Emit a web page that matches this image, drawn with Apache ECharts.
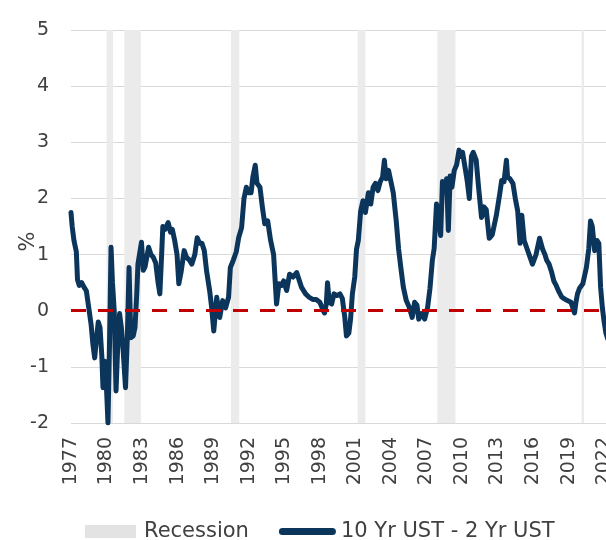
<!DOCTYPE html>
<html>
<head>
<meta charset="utf-8">
<script src="https://cdn.jsdelivr.net/npm/echarts@6/dist/echarts.min.js"></script>
<style>
  html, body { margin: 0; padding: 0; background: #fff; }
  #chart { width: 606px; height: 540px; }
</style>
</head>
<body>
<div id="chart"></div>
<script>
// 10Y - 2Y spread (year as decimal, value in %)
const years = [
  1977.0, 1977.1, 1977.25, 1977.45, 1977.55, 1977.7, 1977.9, 1978.1, 1978.3, 1978.5,
  1978.7, 1978.85, 1979.0, 1979.15, 1979.3, 1979.45, 1979.6, 1979.7, 1979.85, 1980.0,
  1980.12, 1980.25, 1980.38, 1980.5, 1980.65, 1980.8, 1980.95, 1981.1, 1981.25, 1981.4,
  1981.6, 1981.75, 1981.9, 1982.05, 1982.25, 1982.4, 1982.55, 1982.65, 1982.8, 1982.95,
  1983.1, 1983.25, 1983.4, 1983.55, 1983.75, 1983.95, 1984.15, 1984.35, 1984.5, 1984.65,
  1984.75, 1984.95, 1985.2, 1985.4, 1985.55, 1985.75, 1985.95, 1986.1, 1986.3, 1986.55,
  1986.75, 1987.0, 1987.2, 1987.45, 1987.65, 1987.85, 1988.05, 1988.25, 1988.45, 1988.7,
  1988.85, 1989.05, 1989.3, 1989.55, 1989.8, 1990.05, 1990.3, 1990.45, 1990.7, 1990.95,
  1991.15, 1991.4, 1991.6, 1991.8, 1992.0, 1992.2, 1992.35, 1992.55, 1992.7, 1992.95,
  1993.15, 1993.35, 1993.6, 1993.85, 1994.1, 1994.35, 1994.55, 1994.75, 1994.95, 1995.2,
  1995.45, 1995.75, 1996.05, 1996.45, 1996.8, 1997.1, 1997.4, 1997.7, 1998.0, 1998.3,
  1998.4, 1998.55, 1998.65, 1998.8, 1999.0, 1999.2, 1999.45, 1999.7, 1999.9, 2000.1,
  2000.25, 2000.45, 2000.6, 2000.75, 2000.95, 2001.1, 2001.25, 2001.45, 2001.65, 2001.85,
  2002.1, 2002.3, 2002.5, 2002.7, 2002.9, 2003.1, 2003.3, 2003.45, 2003.6, 2003.8,
  2004.0, 2004.2, 2004.45, 2004.65, 2004.85, 2005.05, 2005.3, 2005.55, 2005.8, 2006.0,
  2006.2, 2006.35, 2006.6, 2006.85, 2007.1, 2007.3, 2007.5, 2007.65, 2007.85, 2008.05,
  2008.2, 2008.35, 2008.55, 2008.7, 2008.85, 2009.0, 2009.15, 2009.35, 2009.55, 2009.75,
  2009.9, 2010.05, 2010.3, 2010.45, 2010.62, 2010.8, 2010.95, 2011.2, 2011.4, 2011.65,
  2011.85, 2012.05, 2012.3, 2012.55, 2012.9, 2013.2, 2013.35, 2013.55, 2013.75, 2013.85,
  2014.05, 2014.3, 2014.5, 2014.7, 2014.9, 2015.05, 2015.25, 2015.5, 2015.75, 2015.95,
  2016.25, 2016.55, 2016.8, 2017.0, 2017.15, 2017.35, 2017.55, 2017.75, 2017.95, 2018.2,
  2018.4, 2018.65, 2018.9, 2019.2, 2019.5, 2019.62, 2019.75, 2019.92, 2020.2, 2020.5,
  2020.7, 2020.85, 2021.0, 2021.2, 2021.4, 2021.55, 2021.7, 2021.85, 2022.0, 2022.15,
  2022.3
];
const spread = [
  1.75, 1.5, 1.25, 1.05, 0.55, 0.45, 0.5, 0.42, 0.35, 0.05,
  -0.25, -0.6, -0.84, -0.5, -0.2, -0.3, -0.8, -1.37, -0.9, -1.4,
  -2.0, -0.6, 1.13, 0.5, 0.0, -1.43, -0.6, -0.05, -0.3, -0.7,
  -1.37, -0.5, 0.77, -0.48, -0.45, -0.3, 0.3, 0.83, 0.85, 1.22,
  0.72, 0.78, 0.75, 1.13, 1.0, 0.95, 0.85, 0.5, 0.3, 1.0,
  1.5, 1.45, 1.57, 1.4, 1.45, 1.25, 1.0, 0.48, 0.7, 1.07,
  0.95, 0.9, 0.83, 1.0, 1.3, 1.2, 1.2, 1.07, 0.7, 0.36,
  0.1, -0.36, 0.24, -0.12, 0.18, 0.05, 0.24, 0.77, 0.9, 1.05,
  1.3, 1.48, 2.0, 2.2, 2.1, 2.1, 2.38, 2.59, 2.27, 2.2,
  1.85, 1.55, 1.6, 1.25, 1.0, 0.12, 0.48, 0.45, 0.53, 0.36,
  0.65, 0.6, 0.68, 0.42, 0.3, 0.24, 0.2, 0.2, 0.15, 0.0,
  -0.04, 0.12, 0.5, 0.15, 0.12, 0.3, 0.27, 0.3, 0.22, -0.1,
  -0.45, -0.4, -0.14, 0.3, 0.6, 1.1, 1.25, 1.78, 1.96, 1.75,
  2.1, 1.9, 2.2, 2.27, 2.14, 2.3, 2.38, 2.68, 2.35, 2.5,
  2.3, 2.1, 1.6, 1.1, 0.75, 0.42, 0.18, 0.06, -0.12, 0.15,
  0.1, -0.15, -0.05, -0.15, 0.06, 0.4, 0.9, 1.1, 1.9, 1.6,
  1.34, 2.3, 2.2, 2.35, 1.43, 2.4, 2.2, 2.5, 2.6, 2.86,
  2.75, 2.82, 2.5, 2.3, 2.0, 2.75, 2.82, 2.68, 2.2, 1.66,
  1.85, 1.8, 1.29, 1.35, 1.7, 2.1, 2.32, 2.3, 2.68, 2.38,
  2.35, 2.27, 2.0, 1.78, 1.2, 1.7, 1.25, 1.1, 0.95, 0.83,
  1.0, 1.29, 1.1, 1.0, 0.9, 0.83, 0.7, 0.53, 0.45, 0.33,
  0.25, 0.21, 0.18, 0.15, -0.04, 0.15, 0.3, 0.4, 0.48, 0.77,
  1.1, 1.6, 1.5, 1.07, 1.25, 1.2, 0.42, 0.05, -0.2, -0.4,
  -0.5
];
const recessionStart = [1980.0, 1981.5, 1990.5, 2001.2, 2007.92, 2020.1];
const recessionEnd = [1980.55, 1982.9, 1991.2, 2001.85, 2009.45, 2020.3];
const yTicks = [-2, -1, 0, 1, 2, 3, 4, 5];

const chart = echarts.init(document.getElementById('chart'));
const textColor = '#404040';
const font = 'DejaVu Sans';

const recessionAreas = recessionStart.map((s, i) => [{ xAxis: s }, { xAxis: recessionEnd[i] }]);
const spreadData = years.map((y, i) => [y, spread[i]]);

// hide the gray split line at zero, the red dashed line sits there
const splitColors = yTicks.map(v => v === 0 ? 'rgba(0,0,0,0)' : '#d9d9d9');

const option = {
  animation: false,
  grid: {
    left: 71,
    top: 30,
    width: 545,
    height: 393,
    outerBoundsMode: 'none'
  },
  legend: {
    left: 80,
    top: 516,
    itemGap: 30,
    itemWidth: 57,
    itemHeight: 13,
    textStyle: { color: textColor, fontSize: 21, fontFamily: font },
    data: [
      { name: 'Recession', icon: 'path://M0,0 H51 V13 H0 Z', itemStyle: { color: '#e3e3e3' } },
      { name: '10 Yr UST - 2 Yr UST', icon: 'path://M3.5,0 L53.5,0 A3.5,3.5 0 0 1 53.5,7 L3.5,7 A3.5,3.5 0 0 1 3.5,0 Z' }
    ]
  },
  xAxis: {
    type: 'value',
    min: 1977,
    max: 2023,
    interval: 3,
    axisLine: { show: false },
    axisTick: { show: false },
    splitLine: { show: false },
    axisLabel: {
      rotate: 90,
      margin: 14,
      color: textColor,
      fontSize: 19,
      fontFamily: font,
      formatter: v => ((v - 1977) % 3 === 0 ? String(v) : '')
    }
  },
  yAxis: {
    type: 'value',
    min: -2,
    max: 5,
    interval: 1,
    name: '%',
    nameLocation: 'middle',
    nameRotate: 90,
    nameGap: 32,
    nameMoveOverlap: false,
    nameTextStyle: { color: textColor, fontSize: 21, fontFamily: font, padding: [0, 30, 0, 0] },
    axisLine: { show: false },
    axisTick: { show: false },
    axisLabel: { margin: 22, color: textColor, fontSize: 19, fontFamily: font },
    splitLine: { lineStyle: { color: splitColors, width: 1 } }
  },
  series: [
    {
      name: 'Recession',
      type: 'line',
      z: -1,
      data: [],
      itemStyle: { color: '#e3e3e3' },
      markArea: {
        silent: true,
        itemStyle: { color: '#ebebeb' },
        data: recessionAreas
      }
    },
    {
      name: 'zero',
      type: 'line',
      data: [],
      markLine: {
        silent: true,
        symbol: 'none',
        label: { show: false },
        lineStyle: { color: '#c00000', width: 3, type: [15, 12] },
        data: [{ yAxis: 0 }]
      }
    },
    {
      name: '10 Yr UST - 2 Yr UST',
      type: 'line',
      data: spreadData,
      showSymbol: false,
      symbol: 'none',
      itemStyle: { color: '#0c355c' },
      lineStyle: { color: '#0c355c', width: 5, join: 'round', cap: 'round' }
    }
  ]
};
chart.setOption(option);
</script>
</body>
</html>
